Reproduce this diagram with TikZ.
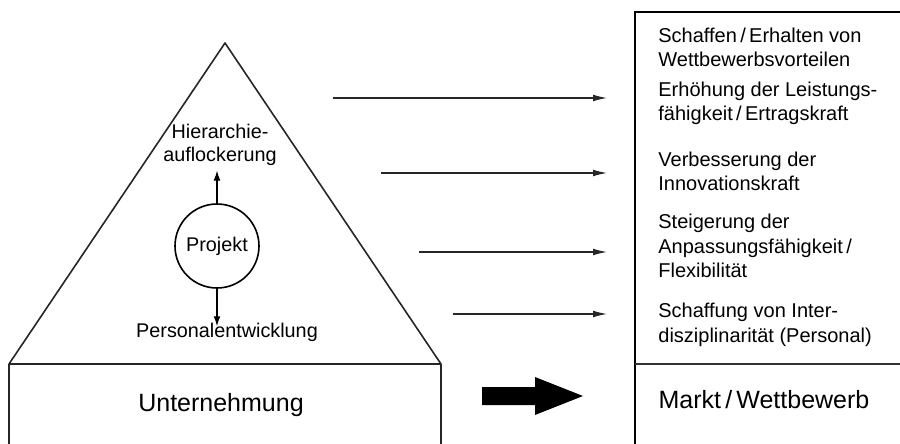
\documentclass[tikz,border=0pt]{standalone}
\usepackage{fontspec}
\setmainfont{Liberation Sans}
\usetikzlibrary{arrows.meta}

\tikzset{
  outline/.style={line width=.8pt, draw=black!85},
  goal/.style={anchor=base west, align=left, inner sep=0pt, font=\fontsize{10}{12.4}\selectfont},
  inside/.style={align=center, inner sep=0pt, font=\fontsize{9.9}{11.5}\selectfont},
  big/.style={inner sep=0pt, font=\fontsize{12.5}{14}\selectfont},
  effect/.style={-{Latex[length=7pt,width=3.4pt]}, line width=.6pt, draw=black!85},
  small arrow/.style={-{Latex[length=5pt,width=3.4pt]}, line width=.6pt},
}

\begin{document}
\begin{tikzpicture}[x=.5pt,y=-.5pt]
\useasboundingbox (0,0) rectangle (900,444);

% company: triangle on a box
\coordinate (bl) at (9,364);
\coordinate (top) at (225,43);
\coordinate (br) at (441,364);
\coordinate (bl2) at (9,444);
\coordinate (br2) at (441,444);
\draw[outline, line join=round] (bl) -- (top) -- (br) -- cycle;
\draw[outline] (bl) -- (bl2);
\draw[outline] (br) -- (br2);
\node[big, anchor=base] (firm) at (221,411) {Unternehmung};

% project in the middle
\node[circle, draw, line width=.8pt, minimum size=42pt, inner sep=0pt, font=\fontsize{9.9}{11}\selectfont] (proj) at (217,246) {Projekt};
\node[inside, anchor=base] (hier) at (220,162) {Hierarchie-\\auflockerung};
\node[inside, anchor=base] (pers) at (227,337) {Personalentwicklung};
\draw[small arrow, shorten >=2pt] (proj.north) -- (proj.north |- hier.south);
\draw[small arrow, shorten >=-2pt] (proj.south) -- (proj.south |- pers.north);

% market box
\coordinate (mtl) at (635,12);
\coordinate (mtr) at (900,12);
\coordinate (mbl) at (635,444);
\coordinate (mml) at (635,364);
\coordinate (mmr) at (900,364);
\draw[line width=1pt] (mtr) -- (mtl) -- (mbl);
\draw[line width=.6pt, draw=black!80] (mml) -- (mmr);
\node[big, anchor=base] (market) at (764,408) {Markt\,/\,Wettbewerb};

% goals (anchored at the last line)
\node[goal] (g1) at (658,67) {Schaffen\,/\,Erhalten von\\Wettbewerbsvorteilen};
\node[goal] (g2) at (658,121) {Erhöhung der Leistungs-\\fähigkeit\,/\,Ertragskraft};
\node[goal] (g3) at (658,191) {Verbesserung der\\Innovationskraft};
\node[goal] (g4) at (658,278) {Steigerung der\\Anpassungsfähigkeit\,/\\Flexibilität};
\node[goal] (g5) at (658,342) {Schaffung von Inter-\\disziplinarität (Personal)};

% effects
\foreach \i/\xs/\y in {1/333/98, 2/381/173, 3/419/252, 4/453/314}{
  \coordinate (s\i) at (\xs,\y);
  \coordinate (t\i) at (607,\y);
  \draw[effect] (s\i) -- (t\i);
}

% big arrow
\fill (482,387) -- (535,387) -- (535,377) -- (583,396) -- (535,415) -- (535,405) -- (482,405) -- cycle;
\end{tikzpicture}
\end{document}
